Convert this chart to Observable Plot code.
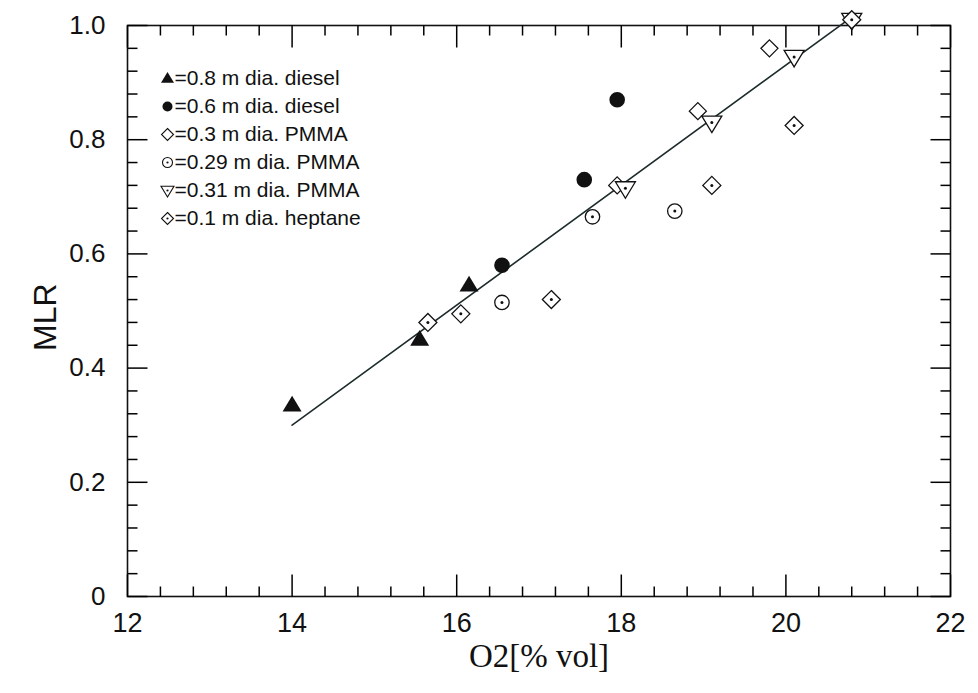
<!DOCTYPE html>
<html>
<head>
<meta charset="utf-8">
<script src="https://cdn.jsdelivr.net/npm/d3@7"></script>
<script src="https://cdn.jsdelivr.net/npm/@observablehq/plot@0.6"></script>
<style>
  html, body { margin: 0; padding: 0; background: white; }
  #chart { width: 978px; height: 693px; }
</style>
</head>
<body>
<div id="chart"></div>
<script>
// ---- Data ----
const diesel08X = [14.0, 15.55, 16.15];
const diesel08Y = [0.335, 0.45, 0.545];
const diesel06X = [16.55, 17.55, 17.95];
const diesel06Y = [0.58, 0.73, 0.87];
const pmma03X = [17.95, 18.93, 19.8];
const pmma03Y = [0.72, 0.85, 0.96];
const pmma029X = [16.55, 17.65, 18.65];
const pmma029Y = [0.515, 0.665, 0.675];
const pmma031X = [18.05, 19.1, 20.1, 20.8];
const pmma031Y = [0.715, 0.83, 0.945, 1.01];
const heptaneX = [15.65, 16.05, 17.15, 19.1, 20.1, 20.8];
const heptaneY = [0.48, 0.495, 0.52, 0.72, 0.825, 1.01];
const fitX = [14.0, 20.85];
const fitY = [0.30, 1.02];

const seriesLabels = [
  "=0.8 m dia. diesel",
  "=0.6 m dia. diesel",
  "=0.3 m dia. PMMA",
  "=0.29 m dia. PMMA",
  "=0.31 m dia. PMMA",
  "=0.1 m dia. heptane"
];
const xMajor = [12, 14, 16, 18, 20, 22];
const xMinor = d3.range(12, 22.001, 0.4).filter(v => Math.abs(v / 2 - Math.round(v / 2)) > 1e-6);
const yMajor = [0, 0.2, 0.4, 0.6, 0.8, 1.0];
const yMinor = d3.range(0, 1.0001, 0.04).filter(v => Math.abs(v / 0.2 - Math.round(v / 0.2)) > 1e-6);
const yTickLabels = ["0", "0.2", "0.4", "0.6", "0.8", "1.0"];
const xLabel = "O2[% vol]";
const yLabel = "MLR";

// ---- Layout ----
const W = 978, H = 693, mL = 127, mR = 28, mT = 25, mB = 97;
const xDom = [12, 22], yDom = [0, 1];
const pxPerX = (W - mL - mR) / (xDom[1] - xDom[0]);
const pxPerY = (H - mT - mB) / (yDom[1] - yDom[0]);
const tMajX = 22 / pxPerY, tMinX = 10 / pxPerY;
const tMajY = 20 / pxPerX, tMinY = 10 / pxPerX;

// ---- Custom symbols ----
const rad = s => Math.sqrt(s / Math.PI);
const triUp = { draw(c, s) { const r = rad(s); c.moveTo(0, -r * 1.0); c.lineTo(r, r * 0.65); c.lineTo(-r, r * 0.65); c.closePath(); } };
const triDown = { draw(c, s) { const r = rad(s); c.moveTo(0, r * 1.0); c.lineTo(r, -r * 0.65); c.lineTo(-r, -r * 0.65); c.closePath(); } };
const diam = { draw(c, s) { const r = rad(s); c.moveTo(0, -r); c.lineTo(r, 0); c.lineTo(0, r); c.lineTo(-r, 0); c.closePath(); } };

const pts = (xs, ys) => xs.map((x, i) => ({x, y: ys[i]}));
const ink = "#111";

const series = [
  {data: pts(diesel08X, diesel08Y), symbol: triUp, r: 9.5, fill: ink, stroke: "none", dot: false, lr: 6.5},
  {data: pts(diesel06X, diesel06Y), symbol: "circle", r: 7.8, fill: ink, stroke: "none", dot: false, lr: 5},
  {data: pts(pmma03X, pmma03Y), symbol: diam, r: 8.5, fill: "white", stroke: ink, dot: false, lr: 6},
  {data: pts(pmma029X, pmma029Y), symbol: "circle", r: 7.2, fill: "white", stroke: ink, dot: true, lr: 5},
  {data: pts(pmma031X, pmma031Y), symbol: triDown, r: 10, fill: "white", stroke: ink, dot: true, lr: 6.5},
  {data: pts(heptaneX, heptaneY), symbol: diam, r: 9, fill: "white", stroke: ink, dot: true, lr: 6}
];

const marks = [];
// Frame
marks.push(Plot.frame({stroke: ink, strokeWidth: 1.6}));
// Tick labels
marks.push(Plot.axisX({anchor: "bottom", ticks: xMajor, tickSize: 0, tickPadding: 16, fontSize: 27, tickFormat: d => String(d), label: null}));
marks.push(Plot.axisY({anchor: "left", ticks: yMajor, tickSize: 0, tickPadding: 22, fontSize: 26, tickFormat: (d, i) => yTickLabels[i], label: null}));
// Inward ticks on all four sides, drawn as path links
const tk = {stroke: "#000", strokeWidth: 1.5};
const xTicks = [
  ...xMajor.map(x => ({x, y1: yDom[0], y2: yDom[0] + tMajX})),
  ...xMinor.map(x => ({x, y1: yDom[0], y2: yDom[0] + tMinX})),
  ...xMajor.map(x => ({x, y1: yDom[1], y2: yDom[1] - tMajX})),
  ...xMinor.map(x => ({x, y1: yDom[1], y2: yDom[1] - tMinX}))
];
const yTicks = [
  ...yMajor.map(y => ({y, x1: xDom[0], x2: xDom[0] + tMajY})),
  ...yMinor.map(y => ({y, x1: xDom[0], x2: xDom[0] + tMinY})),
  ...yMajor.map(y => ({y, x1: xDom[1], x2: xDom[1] - tMajY})),
  ...yMinor.map(y => ({y, x1: xDom[1], x2: xDom[1] - tMinY}))
];
marks.push(Plot.link(xTicks, {x1: "x", x2: "x", y1: "y1", y2: "y2", ...tk}));
marks.push(Plot.link(yTicks, {y1: "y", y2: "y", x1: "x1", x2: "x2", ...tk}));
// Fit line
marks.push(Plot.line(pts(fitX, fitY), {x: "x", y: "y", stroke: "#1d2b2b", strokeWidth: 1.6}));
// Data points
for (const s of series) {
  marks.push(Plot.dot(s.data, {x: "x", y: "y", symbol: () => s.symbol, r: s.r, fill: s.fill, stroke: s.stroke, strokeWidth: 1.3}));
  if (s.dot) marks.push(Plot.dot(s.data, {x: "x", y: "y", r: 1.5, fill: ink, stroke: "none"}));
}
// Legend
seriesLabels.forEach((lab, i) => {
  const s = series[i];
  const dy = 53 + i * 28;
  marks.push(Plot.dot([lab], {x: null, y: null, frameAnchor: "top-left", dx: 40, dy, symbol: () => s.symbol, r: s.lr, fill: s.fill, stroke: s.stroke, strokeWidth: 1.1}));
  if (s.dot) marks.push(Plot.dot([lab], {x: null, y: null, frameAnchor: "top-left", dx: 40, dy, r: 1.1, fill: ink}));
  marks.push(Plot.text([lab], {frameAnchor: "top-left", dx: 47, dy, text: d => d, textAnchor: "start", lineAnchor: "middle", fontSize: 21, fill: ink}));
});
// Axis titles
marks.push(Plot.text([xLabel], {frameAnchor: "bottom", dy: 70, text: d => d, fontSize: 33, fontFamily: "Liberation Serif, Times New Roman, serif", fill: ink}));
marks.push(Plot.text([yLabel], {frameAnchor: "left", dx: -82, dy: 40, rotate: -90, text: d => d, fontSize: 32, fill: ink}));

const chart = Plot.plot({
  width: W,
  height: H,
  marginLeft: mL,
  marginRight: mR,
  marginTop: mT,
  marginBottom: mB,
  x: {domain: xDom},
  y: {domain: yDom},
  style: {fontFamily: "Liberation Sans, Arial, Helvetica, sans-serif", background: "white", color: ink},
  marks
});
document.getElementById("chart").appendChild(chart);
</script>
</body>
</html>
